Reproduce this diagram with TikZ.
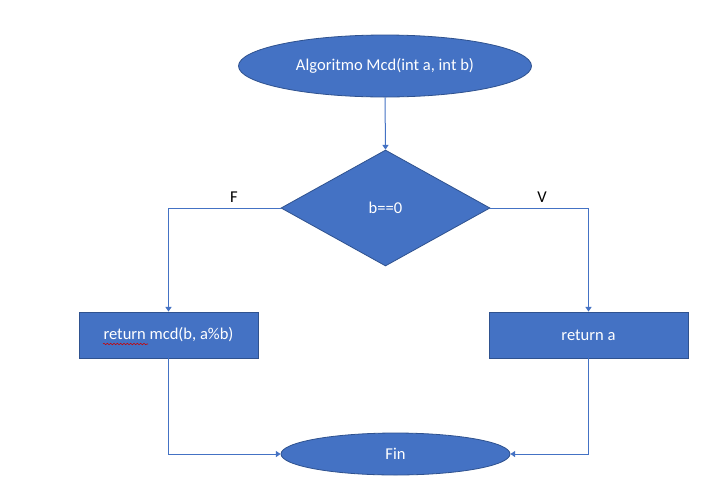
\documentclass[tikz,border=0pt]{standalone}
\usepackage{fontspec}
\setmainfont{Carlito}
\usetikzlibrary{shapes.geometric,arrows.meta,decorations.pathmorphing}
\definecolor{fillblue}{HTML}{4472C4}
\definecolor{edgeblue}{HTML}{2F528F}
\definecolor{lineblue}{HTML}{4472C4}
\begin{document}
\begin{tikzpicture}[x=0.75pt,y=-0.75pt,
  every node/.style={font=\fontsize{12.4}{14}\selectfont},
  shapebox/.style={fill=fillblue,draw=edgeblue,line width=0.6pt,text=white,inner sep=0pt},
  ovalbox/.style={shapebox,ellipse},
  rectbox/.style={shapebox,rectangle},
  decbox/.style={shapebox,diamond},
  conn/.style={draw=lineblue,line width=0.75pt,-{Triangle[width=4.5pt,length=3.5pt]}},
  lbl/.style={text=black,inner sep=0pt}
]
\useasboundingbox (0,0) rectangle (714,483);
\fill[white] (0,0) rectangle (714,483);
\node[ovalbox,minimum width=293*0.75pt,minimum height=62*0.75pt] (start) at (385,66) {Algoritmo Mcd(int a, int b)};
\node[decbox,minimum width=209*0.75pt,minimum height=116*0.75pt,aspect=1.8] (dec) at (385.5,208) {b==0};
\node[rectbox,minimum width=179*0.75pt,minimum height=46*0.75pt] (lbox) at (168.5,335) {return mcd(b, a\%b)};
\node[rectbox,minimum width=199*0.75pt,minimum height=46*0.75pt] (rbox) at (588.5,335) {return a};
\node[ovalbox,minimum width=229*0.75pt,minimum height=42*0.75pt] (fin) at (395.5,454) {Fin};
\node[lbl] (F) at (234,197) {F};
\node[lbl] (V) at (542,197) {V};
\draw[conn] (start.south) -- (dec.north);
\draw[conn] (dec.west) -| (lbox.north);
\draw[conn] (dec.east) -| (rbox.north);
\draw[conn] (lbox.south) |- (fin.west);
\draw[conn] (rbox.south) |- (fin.east);
\draw[red!80!black,line width=0.4pt,decorate,decoration={snake,amplitude=0.6pt,segment length=2.5pt}] (103,344) -- (148,344);
\end{tikzpicture}
\end{document}
